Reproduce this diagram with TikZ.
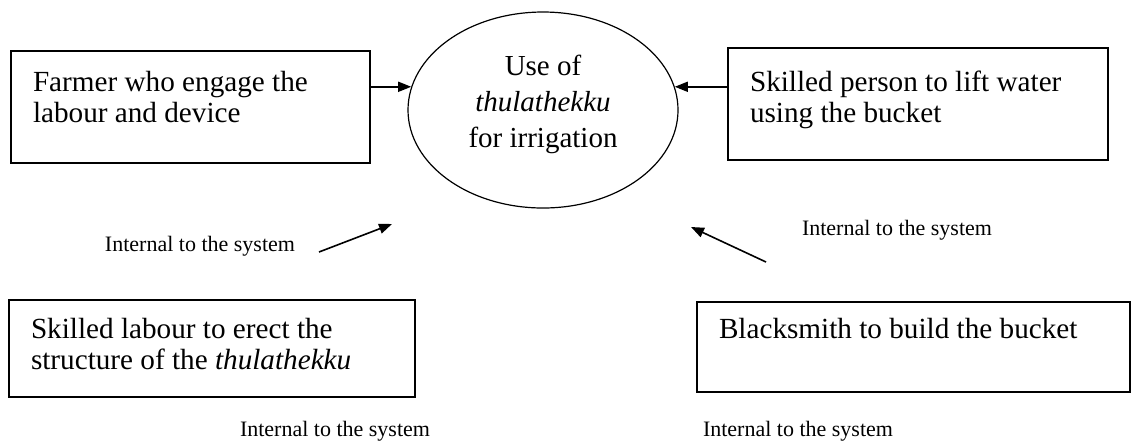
\documentclass[tikz,border=0pt]{standalone}
\usepackage{fontspec}
\setmainfont{Liberation Serif}
\usetikzlibrary{arrows.meta,shapes.geometric}

\newcommand\boxfont{\fontsize{14.6}{15.5}\selectfont}
\newcommand\notefont{\fontsize{11}{13}\selectfont}
% framed text: width, height, first-baseline depth below the top, text
\newcommand\framedtext[4]{\parbox[c][#2][t]{#1}{\raggedright\leftskip=11pt\rule{0pt}{#3}#4}}

\tikzset{
  frame/.style={draw, line width=1pt, inner sep=0pt, anchor=north west, font=\boxfont},
  hub/.style={draw, ellipse, line width=0.6pt, inner sep=0pt,
              minimum width=135pt, minimum height=98pt},
  note/.style={font=\notefont, inner sep=0pt, anchor=base},
  arr/.style={line width=0.8pt, -{Triangle[length=6.5pt,width=5pt]}}
}

\begin{document}
\begin{tikzpicture}[x=0.5pt, y=-0.5pt]
\useasboundingbox (0,0) rectangle (1133,447);

% central activity
\node[hub, label={[align=center, font=\fontsize{14.5}{18}\selectfont, yshift=2.9pt]center:Use of\\\textit{thulathekku}\\for irrigation}] (use) at (543,110) {};

% participants
\node[frame] (farmer) at (10,50)
  {\framedtext{179.5pt}{56pt}{20pt}{Farmer who engage the\\labour and device}};
\node[frame] (skilled) at (727,47)
  {\framedtext{190pt}{56pt}{21.5pt}{Skilled person to lift water\\using the bucket}};
\node[frame] (erect) at (8,299)
  {\framedtext{203pt}{48.5pt}{19pt}{Skilled labour to erect the\\structure of the \textit{thulathekku}}};
\node[frame] (smith) at (696,301)
  {\framedtext{216.5pt}{45pt}{18pt}{Blacksmith to build the bucket}};

% notes
\node[note] (n1) at (200,251) {Internal to the system};
\node[note] (n2) at (897,235) {Internal to the system};
\node[note] (n3) at (335,436) {Internal to the system};
\node[note] (n4) at (798,436) {Internal to the system};

% connectors
\draw[arr] (farmer.east |- use.170) -- (use.170);
\draw[arr] (skilled.west |- use.10) -- (use.10);

\coordinate (la) at (319,252);
\coordinate (lt) at (392,224);
\coordinate (ra) at (766,262);
\coordinate (rt) at (691,227);
\draw[arr] (la) -- (lt);
\draw[arr] (ra) -- (rt);
\end{tikzpicture}
\end{document}
